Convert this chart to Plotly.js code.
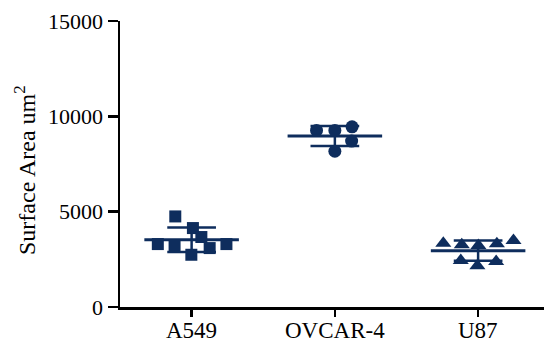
<!DOCTYPE html>
<html>
<head>
<meta charset="utf-8">
<script src="https://cdn.plot.ly/plotly-3.0.1.min.js"></script>
<style>html,body{margin:0;padding:0;background:#fff;overflow:hidden;}</style>
</head>
<body>
<div id="chart" style="width:544px;height:339px;"></div>
<script>
// Categories and tick labels
const categories = ["A549", "OVCAR-4", "U87"];
const yTickValues = [0, 5000, 10000, 15000];
const yTitle = "Surface Area um<sup>2</sup>";
const a549Values = [4750, 4140, 3670, 3300, 3210, 3090, 3300, 2740];
const ovcarValues = [9450, 9260, 9260, 8700, 8170];
const u87Values = [3350, 3260, 3230, 3320, 3490, 2440, 2170, 2380];
// Horizontal scatter (jitter) of each point around its category, in category units
const a549Jitter = [-0.114, 0.009, 0.068, -0.236, -0.119, 0.126, 0.243, -0.002];
const ovcarJitter = [0.12, -0.128, 0.0, 0.117, 0.0];
const u87Jitter = [-0.243, -0.114, 0.002, 0.131, 0.247, -0.121, -0.005, 0.126];

const color = "#0e2d5d";
const groups = [
  {vals: a549Values, jit: a549Jitter, symbol: "square", size: 12},
  {vals: ovcarValues, jit: ovcarJitter, symbol: "circle", size: 13},
  {vals: u87Values, jit: u87Jitter, symbol: "triangle-up", size: 14}
];

function mean(a){return a.reduce((s,v)=>s+v,0)/a.length;}
function sd(a){const m=mean(a);return Math.sqrt(a.reduce((s,v)=>s+(v-m)*(v-m),0)/(a.length-1));}

const traces = [];
groups.forEach((g, i) => {
  const m = mean(g.vals), s = sd(g.vals);
  const mw = 0.33, cw = 0.17;
  traces.push({x:[i-mw, i+mw], y:[m, m], mode:"lines", line:{color:color, width:3}, hoverinfo:"skip", showlegend:false, cliponaxis:false});
  traces.push({x:[i-cw, i+cw, null, i, i, null, i-cw, i+cw], y:[m+s, m+s, null, m+s, m-s, null, m-s, m-s],
    mode:"lines", line:{color:color, width:2.5}, hoverinfo:"skip", showlegend:false, cliponaxis:false});
  traces.push({x:g.vals.map((v,k)=>i+g.jit[k]), y:g.vals, mode:"markers",
    marker:{symbol:g.symbol, size:g.size, color:color}, showlegend:false, cliponaxis:false, name:categories[i]});
});

const serif = "'Liberation Serif', 'Times New Roman', serif";
const annotations = categories.map((c, i) => ({
  text:c, x:i, xref:"x", y:0, yref:"paper", yanchor:"top", yshift:-9, showarrow:false,
  font:{family:serif, size:23, color:"#000"}
}));
annotations.push({
  text:yTitle, textangle:-90, x:0, xref:"paper", xanchor:"center", xshift:-95,
  y:0.479, yref:"paper", yanchor:"middle", showarrow:false,
  font:{family:serif, size:24, color:"#000"}
});
const layout = {
  width:544, height:339,
  margin:{l:120, r:0, t:21, b:32},
  paper_bgcolor:"#fff", plot_bgcolor:"#fff",
  font:{family:serif, color:"#000", size:22},
  xaxis:{range:[-0.5, 2.46], tickmode:"array", tickvals:[0,1,2], showticklabels:false,
    showline:true, linecolor:"#000", linewidth:2.5, ticks:"outside", ticklen:7, tickwidth:2.5, tickcolor:"#000",
    showgrid:false, zeroline:false},
  yaxis:{range:[0,15000], tickmode:"array", tickvals:yTickValues, ticktext:yTickValues.map(String),
    showline:true, linecolor:"#000", linewidth:2.5,
    ticks:"outside", ticklen:10, tickwidth:2.5, tickcolor:"#000", showgrid:false, zeroline:false,
    tickfont:{family:serif, size:22, color:"#000"}},
  annotations: annotations
};
Plotly.newPlot("chart", traces, layout, {displayModeBar:false, staticPlot:true});
</script>
</body>
</html>
